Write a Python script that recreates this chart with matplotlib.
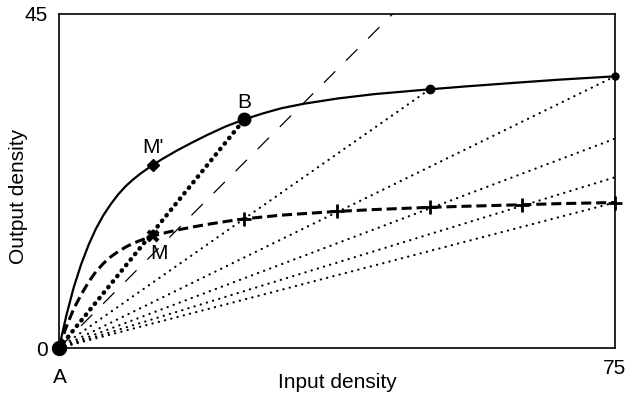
import matplotlib
matplotlib.use("Agg")
import matplotlib.pyplot as plt

plt.rcParams['font.family'] = ['Liberation Sans', 'DejaVu Sans']

# ---- data ----
solid_x = [0, 1, 2, 3, 4, 5, 6, 7, 8, 9, 10, 11, 12.7, 14, 16, 18, 20, 22.5, 25,
           27.5, 30, 33, 37.5, 42.5, 50, 55, 62.5, 67.5, 75]
solid_y = [0, 4.4, 8.2, 11.3, 13.9, 16.1, 17.9, 19.4, 20.7, 21.8, 22.7, 23.5, 24.7, 25.5,
           26.65, 27.7, 28.7, 29.85, 30.8, 31.6, 32.3, 32.9, 33.6, 34.2, 34.85, 35.25,
           35.8, 36.15, 36.6]

dashed_x = [0, 1, 2, 3, 4, 5, 6, 7, 8, 9, 10, 11, 12.7, 14, 16, 18, 20, 22.5, 25,
            30, 37.5, 42.5, 50, 55, 62.5, 67.5, 75]
dashed_y = [0, 2.9, 5.3, 7.2, 8.9, 10.3, 11.4, 12.3, 13.0, 13.6, 14.1, 14.5, 15.1, 15.45,
            15.9, 16.3, 16.65, 17.05, 17.4, 17.9, 18.4, 18.65, 18.95, 19.1, 19.3, 19.45, 19.6]

diag_x = [0, 45]
diag_y = [0, 45]

# rays from origin (thin dotted)
ray_end_x = [50, 75, 75, 75, 75]
ray_end_y = [34.85, 36.6, 28.2, 23.0, 19.6]
# thick dotted ray A -> B
b_x, b_y = 25, 30.8
# points
mprime_x, mprime_y = 12.7, 24.7
m_x, m_y = 12.7, 15.1
dot_x, dot_y = [50, 75], [34.85, 36.6]
plus_x = [25, 37.5, 50, 62.5, 75]
plus_y = [17.4, 18.4, 18.95, 19.3, 19.6]

fig = plt.figure(figsize=(6.26, 3.99), dpi=100)
ax = fig.add_axes([0.0942, 0.1278, 0.8882, 0.8372])
ax.set_xlim(0, 75)
ax.set_ylim(0, 45)

# thin dotted rays
for ex, ey in zip(ray_end_x, ray_end_y):
    ax.plot([0, ex], [0, ey], color='black', lw=1.6,
            linestyle=(0, (0.1, 2.8)), dash_capstyle='round', zorder=2)
# thick dotted ray to B
ax.plot([0, b_x], [0, b_y], color='black', lw=3.2,
        linestyle=(0, (0.1, 1.5)), dash_capstyle='round', zorder=3)
# diagonal dashed
ax.plot(diag_x, diag_y, color='black', lw=0.9, linestyle=(0, (12.8, 12.2)), zorder=2)
# solid curve
ax.plot(solid_x, solid_y, color='black', lw=1.6, zorder=4, solid_joinstyle='round')
# dashed curve
ax.plot(dashed_x, dashed_y, color='black', lw=2.2, linestyle=(0, (3.3, 1.6)), zorder=4)

# markers
ax.plot([mprime_x], [mprime_y], marker='D', color='black', ms=6, zorder=5)
ax.plot([b_x], [b_y], marker='o', color='black', ms=9, zorder=5)
ax.plot(dot_x[:1], dot_y[:1], marker='o', color='black', ms=6, zorder=5)
ax.plot(dot_x[1:], dot_y[1:], marker='o', color='black', ms=5, zorder=5, clip_on=False)
ax.plot([m_x], [m_y], marker='x', color='black', ms=7, mew=3, zorder=5)
ax.plot(plus_x, plus_y, linestyle='none', marker='+', color='black', ms=10, mew=2,
        zorder=5, clip_on=False)
ax.plot([0], [0], marker='o', color='black', ms=10, zorder=6, clip_on=False)

# point labels
fs = 15
ax.annotate("M'", (mprime_x, mprime_y), xytext=(0, 12), textcoords='offset points',
            ha='center', va='center', fontsize=fs)
ax.annotate("B", (b_x, b_y), xytext=(0, 12), textcoords='offset points',
            ha='center', va='center', fontsize=fs)
ax.annotate("M", (m_x, m_y), xytext=(4, -13), textcoords='offset points',
            ha='center', va='center', fontsize=fs)
ax.annotate("A", (0, 0), xytext=(1, -21), textcoords='offset points',
            ha='center', va='center', fontsize=fs, annotation_clip=False)

# ticks
ax.set_xticks([75])
ax.set_xticklabels(['75'], fontsize=fs)
ax.set_yticks([0, 45])
ax.set_yticklabels(['0', '45'], fontsize=fs)
ax.tick_params(axis='both', length=0)
ax.tick_params(axis='x', pad=8)
ax.tick_params(axis='y', pad=8)

ax.set_xlabel('Input density', fontsize=fs, labelpad=-4)
ax.set_ylabel('Output density', fontsize=fs)
ax.yaxis.set_label_coords(-0.056, 0.455)

for s in ax.spines.values():
    s.set_linewidth(1.2)

fig.savefig('out.png', dpi=100)
